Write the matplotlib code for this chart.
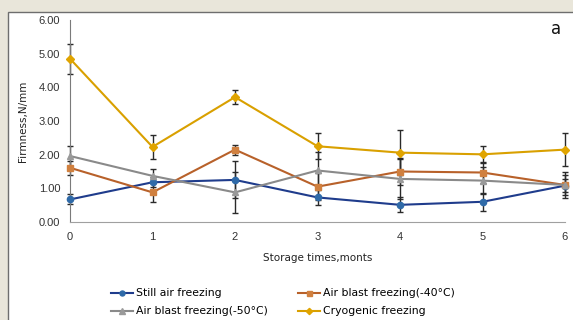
import matplotlib.pyplot as plt
from matplotlib.patches import Rectangle
import numpy as np

# storage time (months)
months = [0, 1, 2, 3, 4, 5, 6]

# firmness N/mm
still_air = [0.67, 1.18, 1.25, 0.73, 0.51, 0.60, 1.08]
still_air_err = [0.15, 0.15, 0.55, 0.22, 0.22, 0.26, 0.20]
blast_40 = [1.61, 0.88, 2.15, 1.05, 1.50, 1.47, 1.10]
blast_40_err = [0.20, 0.30, 0.15, 0.40, 0.40, 0.30, 0.30]
blast_50 = [1.96, 1.37, 0.88, 1.53, 1.28, 1.23, 1.10]
blast_50_err = [0.30, 0.20, 0.60, 0.55, 0.60, 0.40, 0.40]
cryogenic = [4.85, 2.23, 3.71, 2.25, 2.06, 2.01, 2.15]
cryogenic_err = [0.45, 0.36, 0.21, 0.38, 0.66, 0.26, 0.50]

labels = ['Still air freezing', 'Air blast freezing(-40°C)',
          'Air blast freezing(-50°C)', 'Cryogenic freezing']
yticks = [0, 1, 2, 3, 4, 5, 6]

fig = plt.figure(figsize=(5.73, 3.2), dpi=100, facecolor='#e9e6da')
# white panel of the chart area
panel = Rectangle((8 / 573, -0.01), 1.0, 1 - 12 / 320 + 0.01,
                  transform=fig.transFigure, facecolor='white',
                  edgecolor='#6e6e6e', linewidth=1.0, zorder=-10)
fig.add_artist(panel)

ax = fig.add_axes([70 / 573, 1 - 222 / 320, 495 / 573, 202 / 320])
ax.set_facecolor('none')

series = [
    (still_air, still_air_err, '#1f3c8c', '#2f6aa8', 'o', 4.5),
    (blast_40, blast_40_err, '#b8612a', '#d0803f', 's', 4.5),
    (blast_50, blast_50_err, '#8a8a8a', '#9a9a9a', '^', 5),
    (cryogenic, cryogenic_err, '#d9a000', '#e0a400', 'D', 4),
]

x = np.array(months)
handles = []
for (vals, err, lc, mc, mk, ms), lab in zip(series, labels):
    ax.errorbar(x, vals, yerr=err, fmt='none', ecolor='#2a2a2a',
                elinewidth=1.0, capsize=2.5, capthick=1.0, zorder=2,
                clip_on=False)
    h, = ax.plot(x, vals, color=lc, linewidth=1.5, marker=mk, markersize=ms,
                 markerfacecolor=mc, markeredgecolor=mc, label=lab, zorder=3,
                 clip_on=False)
    handles.append(h)

ax.set_xlim(0, 6)
ax.set_ylim(0, 6)
ax.set_xticks(months)
ax.set_yticks(yticks)
ax.set_yticklabels(['%.2f' % v for v in yticks])
ax.tick_params(length=0, labelsize=8, colors='#333333', pad=7)
for t in ax.get_xticklabels() + ax.get_yticklabels():
    t.set_family('Liberation Sans')

for s in ['top', 'right']:
    ax.spines[s].set_visible(False)
ax.spines['left'].set_color('#7a7a7a')
ax.spines['bottom'].set_color('#a0a0a0')

ax.set_xlabel('Storage times,monts', fontsize=7.5, color='#222222', labelpad=8)
ax.set_ylabel('Firmness,N/mm', fontsize=7.5, color='#222222', labelpad=8)

fig.text(556 / 573, 1 - 29 / 320, 'a', fontsize=12, ha='center', va='center',
         color='#111111')

# row-wise legend order: still, -40 / -50, cryogenic
order = [0, 2, 1, 3]
ax.legend([handles[i] for i in order], [labels[i] for i in order],
          loc='upper center', bbox_to_anchor=(0.43, -0.28), ncol=2,
          frameon=False, fontsize=7.8, handlelength=2.0, columnspacing=2.8,
          handletextpad=0.3, labelspacing=0.75, markerscale=0.8)

fig.savefig('out.png', dpi=100, facecolor=fig.get_facecolor())
